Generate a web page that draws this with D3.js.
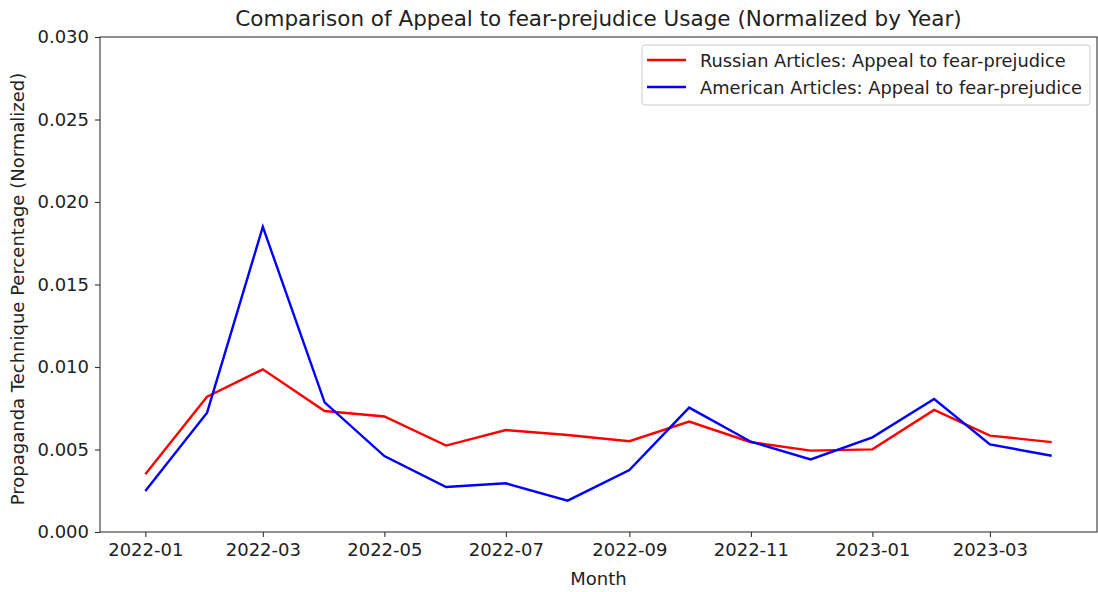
<!DOCTYPE html>
<html>
<head>
<meta charset="utf-8">
<script src="https://cdn.jsdelivr.net/npm/d3@7"></script>
<style>
  body { margin: 0; background: #fff; }
  svg { font-family: "DejaVu Sans", sans-serif; }
</style>
</head>
<body>
<svg width="1098" height="592"></svg>
<script>
// months (first of each month)
var months = ["2022-01","2022-02","2022-03","2022-04","2022-05","2022-06","2022-07","2022-08",
              "2022-09","2022-10","2022-11","2022-12","2023-01","2023-02","2023-03","2023-04"];
var russian = [0.0035, 0.0082, 0.00986, 0.00733, 0.0070, 0.00524, 0.00618, 0.00588,
               0.0055, 0.00669, 0.00544, 0.00493, 0.00501, 0.0074, 0.00584, 0.00545];
var american = [0.00248, 0.00723, 0.0185, 0.00786, 0.0046, 0.00273, 0.00295, 0.0019,
                0.00376, 0.00754, 0.00547, 0.0044, 0.00574, 0.00806, 0.00531, 0.00462];
var yTicks = [0, 0.005, 0.010, 0.015, 0.020, 0.025, 0.030];
var xTickMonths = ["2022-01","2022-03","2022-05","2022-07","2022-09","2022-11","2023-01","2023-03"];

var parse = d3.timeParse("%Y-%m");
var dates = months.map(parse);

var svg = d3.select("svg"),
    margin = {top: 37, right: 1, bottom: 60, left: 100},
    width = +svg.attr("width") - margin.left - margin.right,
    height = +svg.attr("height") - margin.top - margin.bottom,
    chart = svg.append("g").attr("transform", "translate(" + margin.left + "," + margin.top + ")");

// matplotlib style 5% padding on the time axis
var ext = d3.extent(dates), span = ext[1] - ext[0];
var xScale = d3.scaleTime()
  .domain([new Date(+ext[0] - span * 0.05), new Date(+ext[1] + span * 0.05)])
  .range([0, width]);
var yScale = d3.scaleLinear().domain([0, 0.030]).range([height, 0]);

// axes
var xAxis = chart.append("g")
  .attr("transform", "translate(0," + height + ")")
  .call(d3.axisBottom(xScale).tickValues(xTickMonths.map(parse)).tickFormat(d3.timeFormat("%Y-%m"))
        .tickSize(5).tickPadding(6));
var yAxis = chart.append("g")
  .call(d3.axisLeft(yScale).tickValues(yTicks).tickFormat(d3.format(".3f")).tickSize(5).tickPadding(6));

[xAxis, yAxis].forEach(function(a) {
  a.selectAll("text").attr("font-size", 18).attr("fill", "#222").attr("font-family", "DejaVu Sans");
  a.selectAll("line").attr("stroke", "#333").attr("stroke-width", 1.1);
  a.select(".domain").remove();
});

// frame
chart.append("rect").attr("width", width).attr("height", height)
  .attr("fill", "none").attr("stroke", "#333").attr("stroke-width", 1.1);

// lines
var line = d3.line()
  .x(function(d, i) { return xScale(dates[i]); })
  .y(function(d) { return yScale(d); });

chart.append("path").datum(russian).attr("d", line)
  .attr("fill", "none").attr("stroke", "#ff0000").attr("stroke-width", 2.4);
chart.append("path").datum(american).attr("d", line)
  .attr("fill", "none").attr("stroke", "#0000ff").attr("stroke-width", 2.4);

// title and labels
svg.append("text").attr("x", margin.left + width / 2).attr("y", 26)
  .attr("text-anchor", "middle").attr("font-size", 21.5).attr("fill", "#222")
  .text("Comparison of Appeal to fear-prejudice Usage (Normalized by Year)");
svg.append("text").attr("x", margin.left + width / 2).attr("y", 585)
  .attr("text-anchor", "middle").attr("font-size", 18).attr("fill", "#222")
  .text("Month");
svg.append("text").attr("transform", "translate(24,289) rotate(-90)")
  .attr("text-anchor", "middle").attr("font-size", 18).attr("fill", "#222")
  .text("Propaganda Technique Percentage (Normalized)");

// legend
var legend = svg.append("g").attr("transform", "translate(642,45)");
legend.append("rect").attr("width", 448).attr("height", 60).attr("rx", 3)
  .attr("fill", "#fff").attr("stroke", "#ccc").attr("stroke-width", 1);
var items = [{name: "Russian Articles: Appeal to fear-prejudice", color: "#ff0000"},
             {name: "American Articles: Appeal to fear-prejudice", color: "#0000ff"}];
items.forEach(function(it, i) {
  var y = 15 + i * 27;
  legend.append("line").attr("x1", 5).attr("x2", 44).attr("y1", y).attr("y2", y)
    .attr("stroke", it.color).attr("stroke-width", 2.4);
  legend.append("text").attr("x", 58).attr("y", y + 6.5).attr("font-size", 17.8).attr("fill", "#222")
    .text(it.name);
});
</script>
</body>
</html>
